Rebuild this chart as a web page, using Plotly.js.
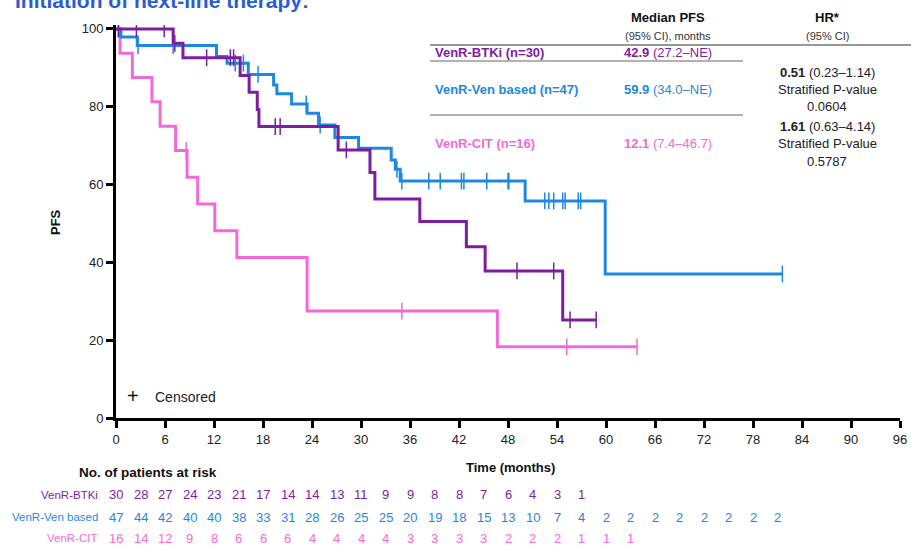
<!DOCTYPE html>
<html><head><meta charset="utf-8">
<script src="https://cdn.plot.ly/plotly-3.0.1.min.js"></script>
<style>html,body{margin:0;padding:0;background:#fff}#chart{width:911px;height:547px}</style>
</head><body><div id="chart"></div>
<script>
// ---- data ----
const btkTime = [0, 7.0, 8.2, 15.2, 16.3, 17.3, 17.5, 27.2, 31.1, 31.7, 37.2, 42.9, 45.2, 54.7, 58.8];
const btkSurv = [100, 96.3, 92.6, 88.0, 83.7, 79.3, 74.9, 68.9, 63.1, 56.3, 50.5, 44.0, 37.8, 25.2, 25.2];
const btkCensTime = [0.3, 2.5, 5.9, 7.2, 11.1, 14.0, 14.4, 19.5, 20.1, 28.2, 49.1, 53.6, 55.6, 58.8];
const btkCensSurv = [100, 100, 100, 96.3, 92.6, 92.6, 92.6, 74.9, 74.9, 68.9, 37.8, 37.8, 25.2, 25.2];

const venTime = [0, 0.6, 2.6, 12.3, 13.6, 16.2, 19.3, 19.7, 21.5, 23.4, 24.8, 26.8, 29.7, 33.7, 34.2, 34.8, 50.1, 59.9, 81.6];
const venSurv = [100, 97.9, 95.7, 92.9, 91.2, 88.3, 85.6, 83.3, 80.7, 78.3, 75.3, 72.1, 69.3, 66.3, 63.9, 60.9, 55.8, 37.0, 37.0];
const venCensTime = [0.3, 2.7, 7.0, 14.6, 15.6, 17.4, 23.3, 25.0, 34.4, 35.0, 38.3, 39.7, 42.3, 42.6, 45.4, 48.0, 48.1, 52.5, 53.0, 53.6, 54.7, 55.0, 56.6, 56.9, 81.6];
const venCensSurv = [100, 95.7, 95.7, 91.2, 91.2, 88.3, 80.7, 75.3, 63.9, 60.9, 60.9, 60.9, 60.9, 60.9, 60.9, 60.9, 60.9, 55.8, 55.8, 55.8, 55.8, 55.8, 55.8, 55.8, 37.0];

const citTime = [0, 0.5, 2.0, 4.4, 5.4, 7.3, 8.7, 10.0, 12.1, 14.8, 23.4, 46.7, 63.8];
const citSurv = [100, 93.75, 87.5, 81.25, 75, 68.75, 61.9, 55.0, 48.1, 41.25, 27.5, 18.3, 18.3];
const citCensTime = [8.6, 35.0, 55.2, 63.8];
const citCensSurv = [68.75, 27.5, 18.3, 18.3];

const xTicks = [0, 6, 12, 18, 24, 30, 36, 42, 48, 54, 60, 66, 72, 78, 84, 90, 96];
const yTicks = [0, 20, 40, 60, 80, 100];

const riskTimes = [0,3,6,9,12,15,18,21,24,27,30,33,36,39,42,45,48,51,54,57,60,63,66,69,72,75,78,81];
const btkRisk = [30,28,27,24,23,21,17,14,14,13,11,9,9,8,8,7,6,4,3,1];
const venRisk = [47,44,42,40,40,38,33,31,28,26,25,25,20,19,18,15,13,10,7,4,2,2,2,2,2,2,2,2];
const citRisk = [16,14,12,9,8,6,6,6,4,4,4,4,3,3,3,3,2,2,2,1,1,1];

const seriesNames = ['VenR-BTKi', 'VenR-Ven based', 'VenR-CIT'];
const seriesN = [30, 47, 16];
const medianPFS = ['42.9', '59.9', '12.1'];
const medianCI = ['(27.2–NE)', '(34.0–NE)', '(7.4–46.7)'];

// ---- style ----
const PURPLE = '#7d1ea0', BLUE = '#1e88e0', PINK = '#f26ad8';
const FONT = 'Liberation Sans, Arial, sans-serif';
const L = 116, T = 25, W = 784, H = 393;
const px = v => (v - L) / W;
const py = v => (T + H - v) / H;

function curve(x, y, color) {
  return {x, y, mode: 'lines', line: {shape: 'hv', width: 3, color}, hoverinfo: 'skip', showlegend: false};
}
function cens(x, y, color) {
  return {x, y, mode: 'markers', marker: {symbol: 'line-ns-open', size: 12, color: color, line: {width: 1.5, color: color}}, hoverinfo: 'skip', showlegend: false};
}

const data = [
  curve(citTime, citSurv, PINK), cens(citCensTime, citCensSurv, PINK),
  curve(venTime, venSurv, BLUE), cens(venCensTime, venCensSurv, BLUE),
  curve(btkTime, btkSurv, PURPLE), cens(btkCensTime, btkCensSurv, PURPLE)
];

const ann = [];
function txt(text, x, y, opts) {
  ann.push(Object.assign({text, x: px(x), y: py(y), xref: 'paper', yref: 'paper', showarrow: false,
    xanchor: 'center', yanchor: 'middle', font: {family: FONT, size: 13, color: '#222'}}, opts || {}));
}

// partial title at top (cut off by the page edge, as in the reference)
txt('<b>Initiation of next-line therapy:</b>', 13, 14, {xanchor: 'left', yanchor: 'bottom', font: {family: FONT, size: 21, color: '#2a5bd7'}});

// y title
txt('<b>PFS</b>', 55, 222, {textangle: -90, font: {family: FONT, size: 13, color: '#111'}});
// x title
txt('<b>Time (months)</b>', 510, 468, {font: {family: FONT, size: 13, color: '#111'}});
// at risk header
txt('<b>No. of patients at risk</b>', 148, 472, {font: {family: FONT, size: 13.5, color: '#111'}});

// censored legend
txt('+', 133, 396, {font: {family: FONT, size: 20, color: '#111'}});
txt('Censored', 185, 397, {font: {family: FONT, size: 14, color: '#222'}});

// table header
txt('<b>Median PFS</b>', 668, 17, {font: {family: FONT, size: 13, color: '#111'}});
txt('(95% CI), months', 668, 36, {font: {family: FONT, size: 11, color: '#333'}});
txt('<b>HR*</b>', 827, 17, {font: {family: FONT, size: 13, color: '#111'}});
txt('(95% CI)', 827, 36, {font: {family: FONT, size: 11, color: '#333'}});

const rowColors = [PURPLE, BLUE, PINK];
const rowY = [53, 89, 143];
for (let i = 0; i < 3; i++) {
  txt('<b>' + seriesNames[i] + ' (n=' + seriesN[i] + ')</b>', 433, rowY[i], {xanchor: 'left', font: {family: FONT, size: 13, color: rowColors[i]}});
  txt('<b>' + medianPFS[i] + '</b> ' + medianCI[i], 668, rowY[i], {font: {family: FONT, size: 13, color: rowColors[i]}});
}
txt('<b>0.51</b> (0.23–1.14)', 827, 72);
txt('Stratified P-value', 827, 89);
txt('0.0604', 827, 107);
txt('<b>1.61</b> (0.63–4.14)', 827, 126);
txt('Stratified P-value', 827, 143);
txt('0.5787', 827, 161);

// at risk table
const riskRows = [btkRisk, venRisk, citRisk];
const riskY = [495, 517, 538];
for (let r = 0; r < 3; r++) {
  txt(seriesNames[r], 100, riskY[r], {xanchor: 'right', font: {family: FONT, size: 11.5, color: rowColors[r]}});
  riskRows[r].forEach((v, i) => {
    ann.push({text: String(v), x: riskTimes[i], xref: 'x', y: py(riskY[r]), yref: 'paper', showarrow: false,
      xanchor: 'center', yanchor: 'middle', font: {family: FONT, size: 13, color: rowColors[r]}});
  });
}

const shapes = [
  {type: 'line', xref: 'paper', yref: 'paper', x0: px(430), x1: px(911), y0: py(45), y1: py(45), line: {color: '#777', width: 1.5}},
  {type: 'line', xref: 'paper', yref: 'paper', x0: px(430), x1: px(743), y0: py(61), y1: py(61), line: {color: '#999', width: 1.5}},
  {type: 'line', xref: 'paper', yref: 'paper', x0: px(430), x1: px(743), y0: py(115), y1: py(115), line: {color: '#999', width: 1.5}}
];

const layout = {
  width: 911, height: 547,
  margin: {l: L, r: 911 - L - W, t: T, b: 547 - T - H, pad: 0},
  paper_bgcolor: '#fff', plot_bgcolor: '#fff',
  font: {family: FONT, size: 13, color: '#222'},
  xaxis: {range: [0, 96], tickvals: xTicks, ticktext: xTicks.map(String), showgrid: false, zeroline: false,
    showline: true, linecolor: '#000', linewidth: 3, ticks: 'outside', ticklen: 7, tickwidth: 3, tickcolor: '#000',
    tickfont: {family: FONT, size: 13, color: '#222'}, fixedrange: true},
  yaxis: {range: [0, 101], tickvals: yTicks, ticktext: yTicks.map(String), showgrid: false, zeroline: false,
    showline: true, linecolor: '#000', linewidth: 3, ticks: 'outside', ticklen: 7, tickwidth: 3, tickcolor: '#000',
    tickfont: {family: FONT, size: 13, color: '#222'}, fixedrange: true},
  annotations: ann,
  shapes: shapes,
  showlegend: false
};

Plotly.newPlot('chart', data, layout, {displayModeBar: false, staticPlot: true});
</script>
</body></html>
